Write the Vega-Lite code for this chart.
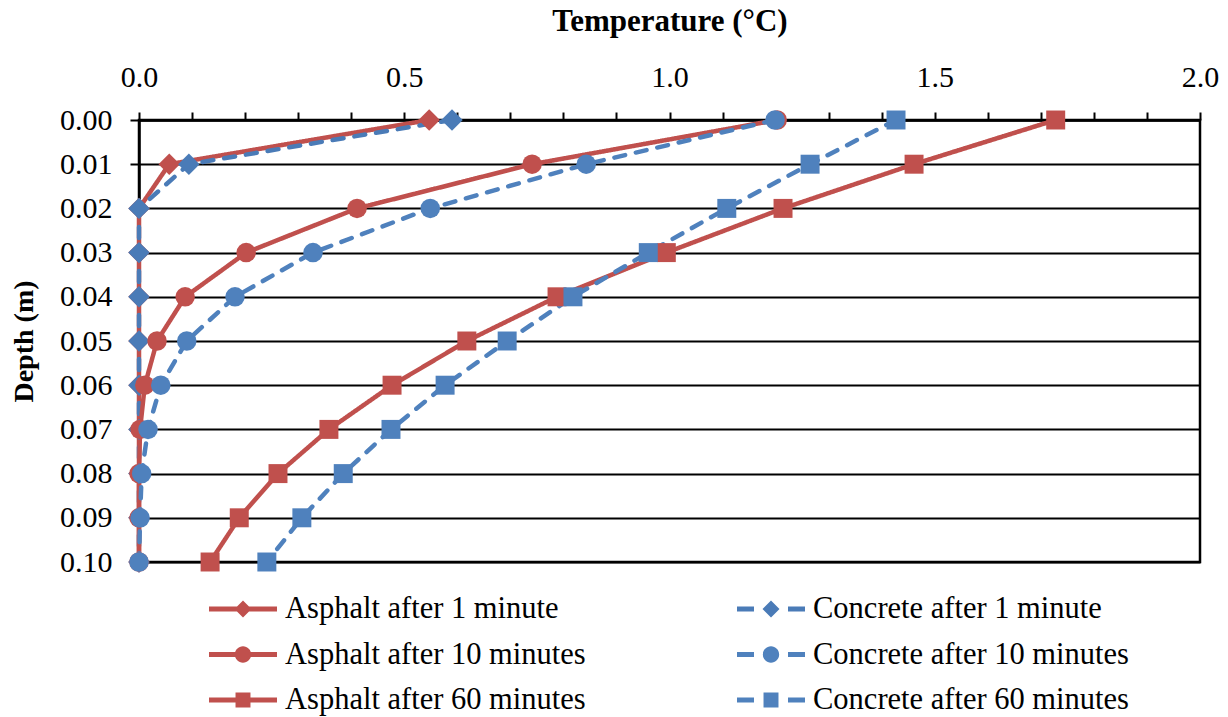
{
  "$schema": "https://vega.github.io/schema/vega-lite/v6.json",
  "width": 1061,
  "height": 442,
  "autosize": "none",
  "padding": {"left": 139, "top": 120, "right": 28, "bottom": 155},
  "background": "white",
  "config": {
    "font": "Liberation Serif",
    "view": {"stroke": "black", "strokeWidth": 2.5},
    "axis": {"labelFont": "Liberation Serif", "titleFont": "Liberation Serif", "labelColor": "black", "titleColor": "black", "domainColor": "black", "tickColor": "black"},
    "legend": {"labelFont": "Liberation Serif"}
  },
  "data": {
    "values": [
      {"s": "Asphalt after 1 minute", "d": 0.00, "t": 0.547},
      {"s": "Asphalt after 1 minute", "d": 0.01, "t": 0.057},
      {"s": "Asphalt after 1 minute", "d": 0.02, "t": 0},
      {"s": "Asphalt after 1 minute", "d": 0.03, "t": 0},
      {"s": "Asphalt after 1 minute", "d": 0.04, "t": 0},
      {"s": "Asphalt after 1 minute", "d": 0.05, "t": 0},
      {"s": "Asphalt after 1 minute", "d": 0.06, "t": 0},
      {"s": "Asphalt after 1 minute", "d": 0.07, "t": 0},
      {"s": "Asphalt after 1 minute", "d": 0.08, "t": 0},
      {"s": "Asphalt after 1 minute", "d": 0.09, "t": 0},
      {"s": "Asphalt after 1 minute", "d": 0.10, "t": 0},
      {"s": "Concrete after 1 minute", "d": 0.00, "t": 0.59},
      {"s": "Concrete after 1 minute", "d": 0.01, "t": 0.094},
      {"s": "Concrete after 1 minute", "d": 0.02, "t": 0},
      {"s": "Concrete after 1 minute", "d": 0.03, "t": 0},
      {"s": "Concrete after 1 minute", "d": 0.04, "t": 0},
      {"s": "Concrete after 1 minute", "d": 0.05, "t": 0},
      {"s": "Concrete after 1 minute", "d": 0.06, "t": 0},
      {"s": "Concrete after 1 minute", "d": 0.07, "t": 0},
      {"s": "Concrete after 1 minute", "d": 0.08, "t": 0},
      {"s": "Concrete after 1 minute", "d": 0.09, "t": 0},
      {"s": "Concrete after 1 minute", "d": 0.10, "t": 0},
      {"s": "Asphalt after 10 minutes", "d": 0.00, "t": 1.203},
      {"s": "Asphalt after 10 minutes", "d": 0.01, "t": 0.741},
      {"s": "Asphalt after 10 minutes", "d": 0.02, "t": 0.411},
      {"s": "Asphalt after 10 minutes", "d": 0.03, "t": 0.202},
      {"s": "Asphalt after 10 minutes", "d": 0.04, "t": 0.087},
      {"s": "Asphalt after 10 minutes", "d": 0.05, "t": 0.034},
      {"s": "Asphalt after 10 minutes", "d": 0.06, "t": 0.011},
      {"s": "Asphalt after 10 minutes", "d": 0.07, "t": 0.002},
      {"s": "Asphalt after 10 minutes", "d": 0.08, "t": 0},
      {"s": "Asphalt after 10 minutes", "d": 0.09, "t": 0},
      {"s": "Asphalt after 10 minutes", "d": 0.10, "t": 0},
      {"s": "Concrete after 10 minutes", "d": 0.00, "t": 1.199},
      {"s": "Concrete after 10 minutes", "d": 0.01, "t": 0.843},
      {"s": "Concrete after 10 minutes", "d": 0.02, "t": 0.549},
      {"s": "Concrete after 10 minutes", "d": 0.03, "t": 0.328},
      {"s": "Concrete after 10 minutes", "d": 0.04, "t": 0.181},
      {"s": "Concrete after 10 minutes", "d": 0.05, "t": 0.09},
      {"s": "Concrete after 10 minutes", "d": 0.06, "t": 0.041},
      {"s": "Concrete after 10 minutes", "d": 0.07, "t": 0.017},
      {"s": "Concrete after 10 minutes", "d": 0.08, "t": 0.005},
      {"s": "Concrete after 10 minutes", "d": 0.09, "t": 0.002},
      {"s": "Concrete after 10 minutes", "d": 0.10, "t": 0},
      {"s": "Asphalt after 60 minutes", "d": 0.00, "t": 1.728},
      {"s": "Asphalt after 60 minutes", "d": 0.01, "t": 1.461},
      {"s": "Asphalt after 60 minutes", "d": 0.02, "t": 1.214},
      {"s": "Asphalt after 60 minutes", "d": 0.03, "t": 0.994},
      {"s": "Asphalt after 60 minutes", "d": 0.04, "t": 0.788},
      {"s": "Asphalt after 60 minutes", "d": 0.05, "t": 0.618},
      {"s": "Asphalt after 60 minutes", "d": 0.06, "t": 0.477},
      {"s": "Asphalt after 60 minutes", "d": 0.07, "t": 0.358},
      {"s": "Asphalt after 60 minutes", "d": 0.08, "t": 0.262},
      {"s": "Asphalt after 60 minutes", "d": 0.09, "t": 0.189},
      {"s": "Asphalt after 60 minutes", "d": 0.10, "t": 0.134},
      {"s": "Concrete after 60 minutes", "d": 0.00, "t": 1.427},
      {"s": "Concrete after 60 minutes", "d": 0.01, "t": 1.265},
      {"s": "Concrete after 60 minutes", "d": 0.02, "t": 1.108},
      {"s": "Concrete after 60 minutes", "d": 0.03, "t": 0.96},
      {"s": "Concrete after 60 minutes", "d": 0.04, "t": 0.818},
      {"s": "Concrete after 60 minutes", "d": 0.05, "t": 0.694},
      {"s": "Concrete after 60 minutes", "d": 0.06, "t": 0.577},
      {"s": "Concrete after 60 minutes", "d": 0.07, "t": 0.475},
      {"s": "Concrete after 60 minutes", "d": 0.08, "t": 0.385},
      {"s": "Concrete after 60 minutes", "d": 0.09, "t": 0.307},
      {"s": "Concrete after 60 minutes", "d": 0.10, "t": 0.241}
    ]
  },
  "encoding": {
    "x": {
      "field": "t", "type": "quantitative",
      "scale": {"domain": [0, 2], "nice": false, "zero": false},
      "axis": {
        "orient": "top",
        "title": "Temperature (°C)",
        "titleFontSize": 31, "titleFontWeight": "bold", "titlePadding": 25,
        "values": [0, 0.1, 0.2, 0.3, 0.4, 0.5, 0.6, 0.7, 0.8, 0.9, 1, 1.1, 1.2, 1.3, 1.4, 1.5, 1.6, 1.7, 1.8, 1.9, 2],
        "labelExpr": "abs(datum.value*2 - round(datum.value*2)) < 0.001 ? format(datum.value, '.1f') : ''",
        "labelFontSize": 30, "labelPadding": 20, "labelFlush": false, "labelOverlap": false,
        "tickSize": 8, "tickWidth": 2, "domainWidth": 2.5, "grid": false
      }
    },
    "y": {
      "field": "d", "type": "quantitative",
      "scale": {"domain": [0, 0.1], "nice": false, "reverse": true},
      "axis": {
        "orient": "left",
        "title": "Depth (m)",
        "titleFontSize": 28, "titleFontWeight": "bold", "titlePadding": 21,
        "values": [0, 0.01, 0.02, 0.03, 0.04, 0.05, 0.06, 0.07, 0.08, 0.09, 0.1],
        "format": ".2f",
        "labelFontSize": 30, "labelPadding": 18, "labelOverlap": false,
        "tickSize": 9, "tickWidth": 2, "domainWidth": 2.5,
        "grid": true, "gridColor": "black", "gridWidth": 2, "gridOpacity": 1
      }
    }
  },
  "layer": [
    {
      "mark": {"type": "line", "strokeWidth": 4.5, "strokeCap": "round"},
      "encoding": {
        "detail": {"field": "s"},
        "order": {"field": "d", "type": "quantitative"},
        "color": {
          "field": "s", "type": "nominal", "legend": null,
          "scale": {
            "domain": ["Asphalt after 1 minute", "Asphalt after 10 minutes", "Asphalt after 60 minutes", "Concrete after 1 minute", "Concrete after 10 minutes", "Concrete after 60 minutes"],
            "range": ["#C0504D", "#C0504D", "#C0504D", "#4A7BB7", "#4F81BD", "#4F81BD"]
          }
        },
        "strokeDash": {
          "field": "s", "type": "nominal", "legend": null,
          "scale": {
            "domain": ["Asphalt after 10 minutes", "Asphalt after 1 minute", "Asphalt after 60 minutes", "Concrete after 10 minutes", "Concrete after 1 minute", "Concrete after 60 minutes"],
            "range": [[1, 0], [1, 0], [1, 0], [11, 11], [11, 11], [11, 11]]
          }
        }
      }
    },
    {
      "transform": [{"filter": {"field": "s", "oneOf": ["Asphalt after 1 minute", "Concrete after 1 minute"]}}],
      "mark": {"type": "point", "shape": "diamond", "filled": true, "opacity": 1, "size": 460},
      "encoding": {"color": {"field": "s", "type": "nominal", "legend": null}}
    },
    {
      "transform": [{"filter": {"field": "s", "oneOf": ["Asphalt after 10 minutes", "Concrete after 10 minutes"]}}],
      "mark": {"type": "point", "shape": "circle", "filled": true, "opacity": 1, "size": 380},
      "encoding": {"color": {"field": "s", "type": "nominal", "legend": null}}
    },
    {
      "transform": [{"filter": {"field": "s", "oneOf": ["Asphalt after 60 minutes", "Concrete after 60 minutes"]}}],
      "mark": {"type": "point", "shape": "square", "filled": true, "opacity": 1, "size": 360},
      "encoding": {"color": {"field": "s", "type": "nominal", "legend": null}}
    },
    {
      "mark": {"type": "point", "filled": true, "opacity": 0},
      "encoding": {
        "fill": {
          "field": "s", "type": "nominal", "title": null,
          "scale": {
            "domain": ["Asphalt after 1 minute", "Concrete after 1 minute", "Asphalt after 10 minutes", "Concrete after 10 minutes", "Asphalt after 60 minutes", "Concrete after 60 minutes"],
            "range": ["#C0504D", "#4A7BB7", "#C0504D", "#4F81BD", "#C0504D", "#4F81BD"]
          },
          "legend": {
            "orient": "none", "legendX": 70, "legendY": 473, "direction": "horizontal", "columns": 2,
            "columnPadding": 151, "rowPadding": 13.5,
            "labelFontSize": 30.5, "labelColor": "black", "labelLimit": 600, "labelOffset": 8,
            "symbolSize": 4624, "symbolStrokeWidth": 0, "symbolOpacity": 1, "clipHeight": 32
          }
        },
        "shape": {
          "field": "s", "type": "nominal", "title": null,
          "scale": {
            "domain": ["Asphalt after 1 minute", "Concrete after 1 minute", "Asphalt after 10 minutes", "Concrete after 10 minutes", "Asphalt after 60 minutes", "Concrete after 60 minutes"],
            "range": [
              "M-1,-0.07L1,-0.07L1,0.07L-1,0.07Z M0,-0.25L0.25,0L0,0.25L-0.25,0Z",
              "M-1,-0.07L-0.5,-0.07L-0.5,0.07L-1,0.07Z M0.5,-0.07L1,-0.07L1,0.07L0.5,0.07Z M0,-0.25L0.25,0L0,0.25L-0.25,0Z",
              "M-1,-0.07L1,-0.07L1,0.07L-1,0.07Z M0.24,0A0.24,0.24 0 1,1 -0.24,0A0.24,0.24 0 1,1 0.24,0Z",
              "M-1,-0.07L-0.5,-0.07L-0.5,0.07L-1,0.07Z M0.5,-0.07L1,-0.07L1,0.07L0.5,0.07Z M0.24,0A0.24,0.24 0 1,1 -0.24,0A0.24,0.24 0 1,1 0.24,0Z",
              "M-1,-0.07L1,-0.07L1,0.07L-1,0.07Z M-0.22,-0.22L0.22,-0.22L0.22,0.22L-0.22,0.22Z",
              "M-1,-0.07L-0.5,-0.07L-0.5,0.07L-1,0.07Z M0.5,-0.07L1,-0.07L1,0.07L0.5,0.07Z M-0.22,-0.22L0.22,-0.22L0.22,0.22L-0.22,0.22Z"
            ]
          },
          "legend": {
            "orient": "none", "legendX": 70, "legendY": 473, "direction": "horizontal", "columns": 2,
            "columnPadding": 151, "rowPadding": 13.5,
            "labelFontSize": 30.5, "labelColor": "black", "labelLimit": 600, "labelOffset": 8,
            "symbolSize": 4624, "symbolStrokeWidth": 0, "symbolOpacity": 1, "clipHeight": 32
          }
        }
      }
    }
  ]
}
